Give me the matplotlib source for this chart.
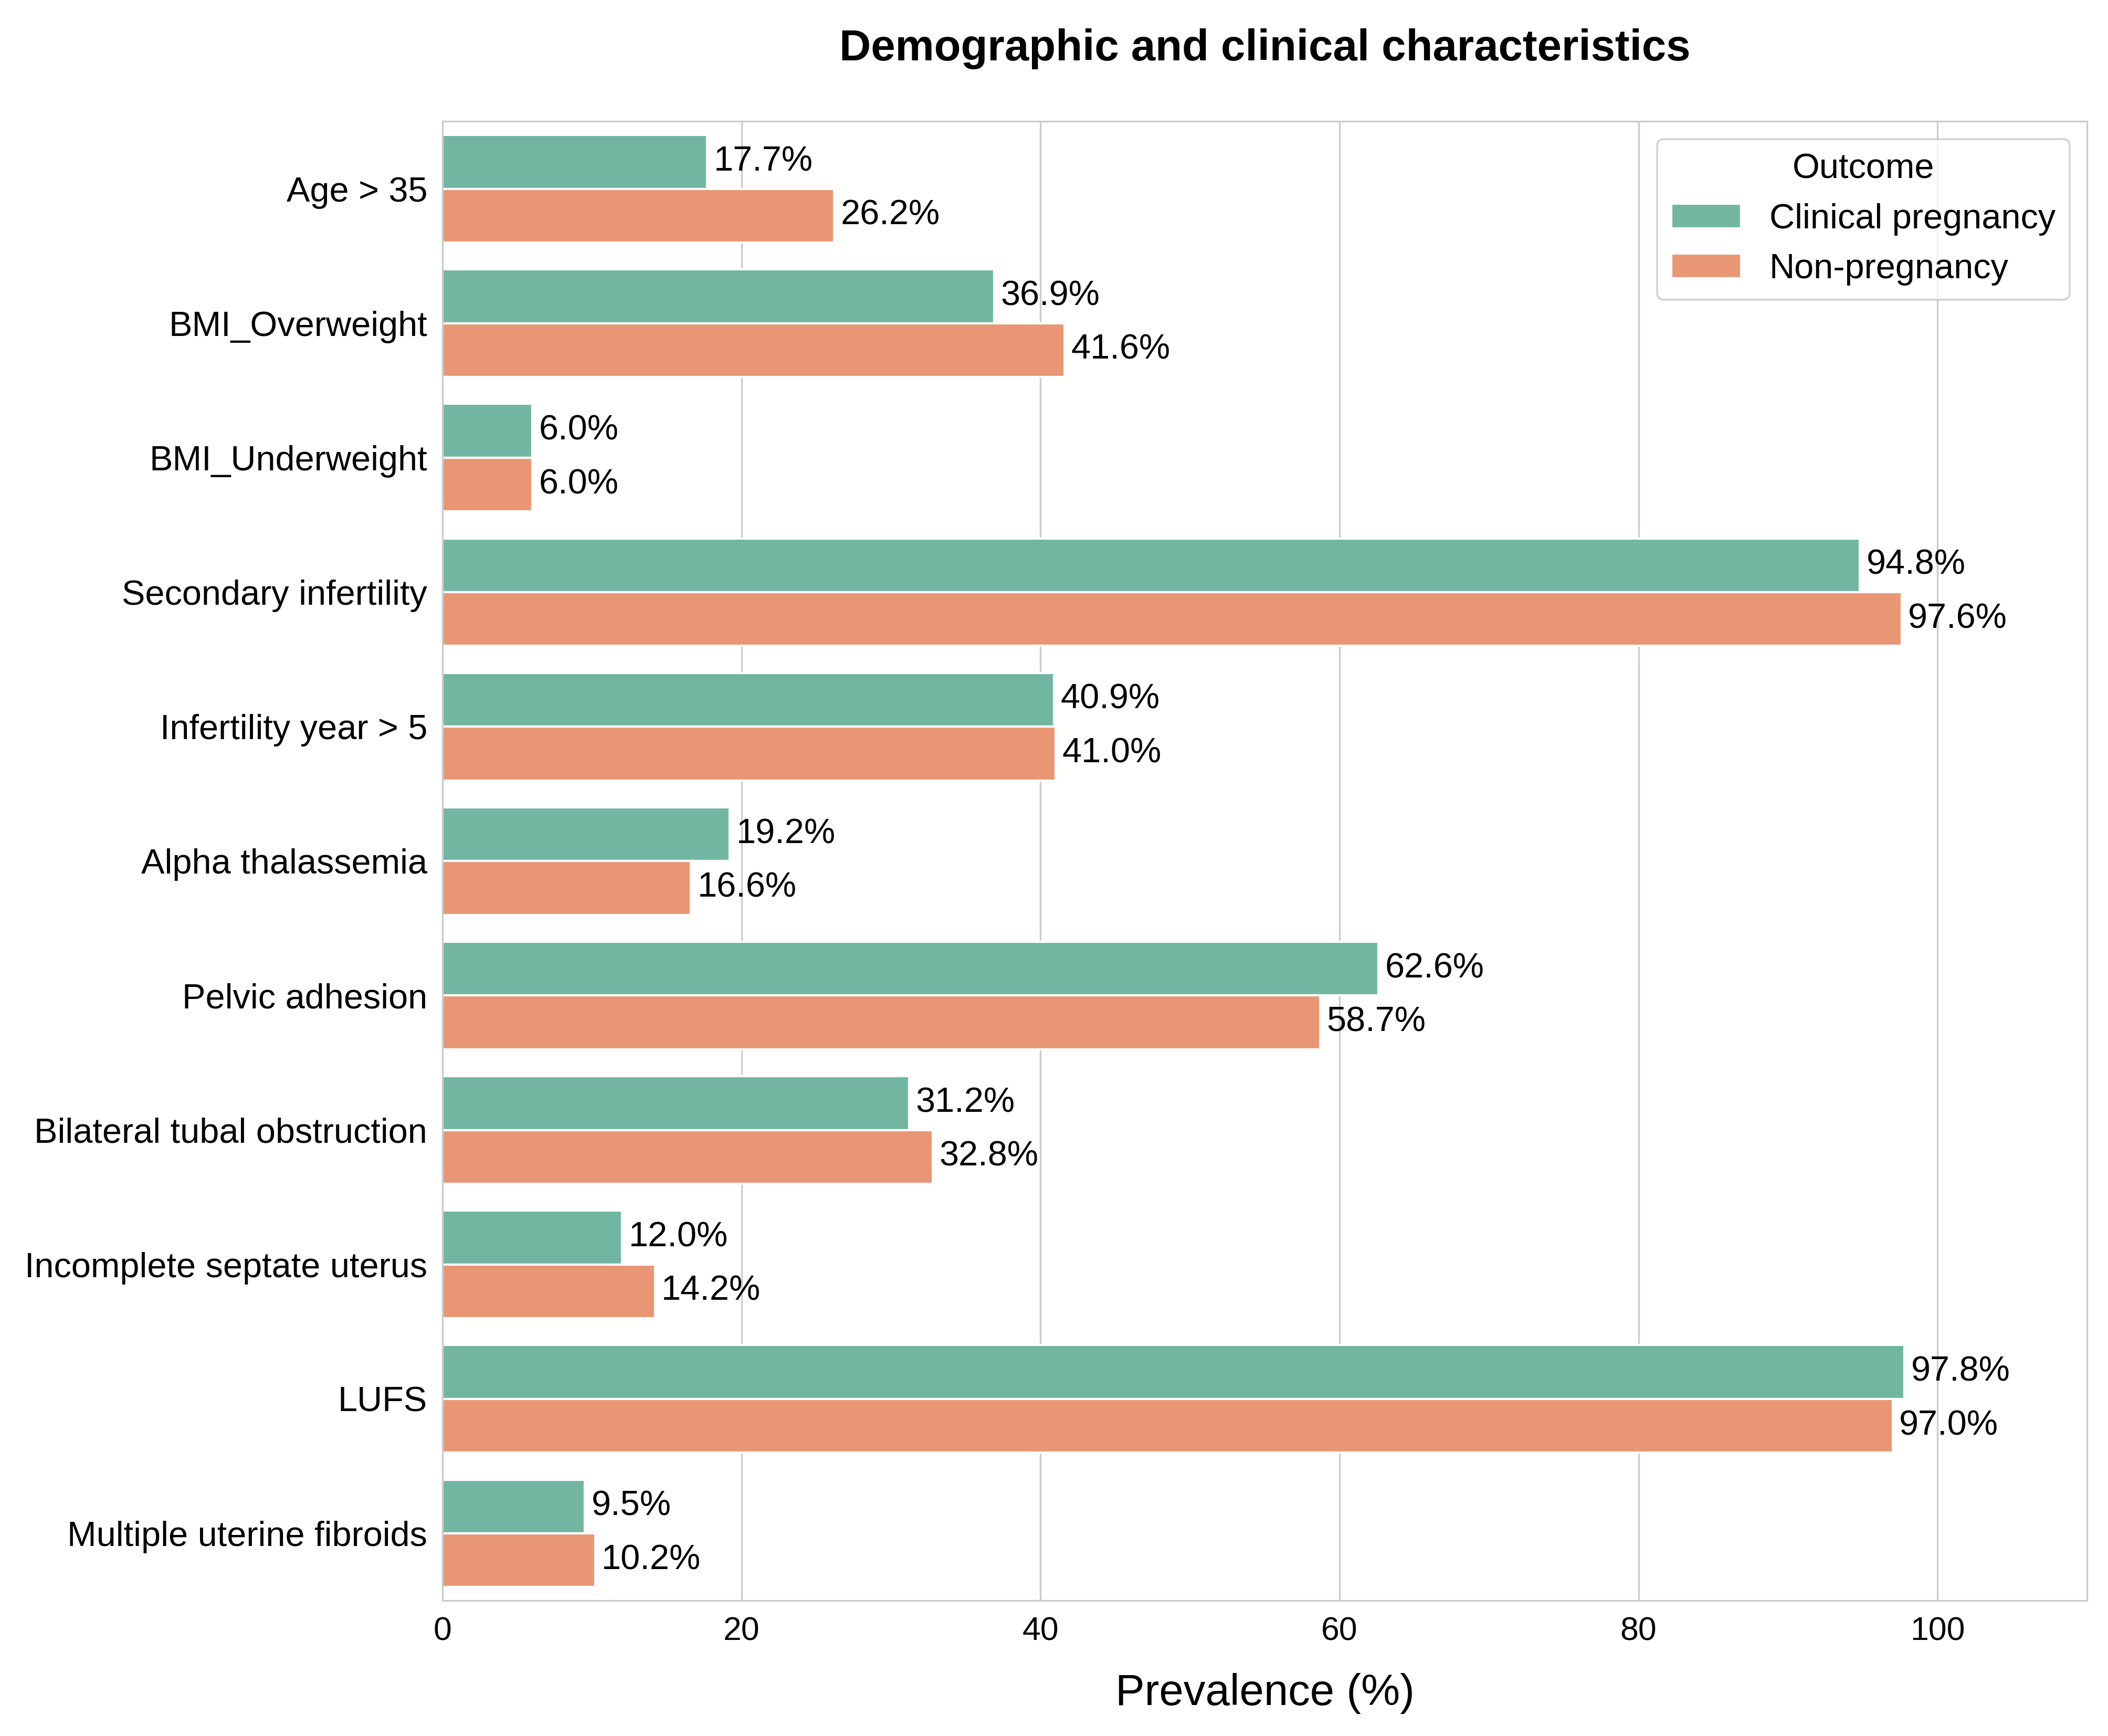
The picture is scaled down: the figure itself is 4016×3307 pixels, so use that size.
import pandas as pd
import seaborn as sns
import matplotlib.pyplot as plt

# values
characteristics = [
    "Age > 35", "BMI_Overweight", "BMI_Underweight", "Secondary infertility",
    "Infertility year > 5", "Alpha thalassemia", "Pelvic adhesion",
    "Bilateral tubal obstruction", "Incomplete septate uterus", "LUFS",
    "Multiple uterine fibroids",
]
pregnancy = [17.7, 36.9, 6.0, 94.8, 40.9, 19.2, 62.6, 31.2, 12.0, 97.8, 9.5]
non_pregnancy = [26.2, 41.6, 6.0, 97.6, 41.0, 16.6, 58.7, 32.8, 14.2, 97.0, 10.2]
outcomes = ["Clinical pregnancy", "Non-pregnancy"]

df = pd.DataFrame({
    "Characteristic": characteristics * 2,
    "Prevalence": pregnancy + non_pregnancy,
    "Outcome": [outcomes[0]] * len(characteristics) + [outcomes[1]] * len(characteristics),
})

sns.set_style("whitegrid")
plt.rcParams['font.family'] = ['Liberation Sans', 'DejaVu Sans']
plt.rcParams['text.color'] = 'black'
plt.rcParams['axes.labelcolor'] = 'black'
plt.rcParams['xtick.color'] = 'black'
plt.rcParams['ytick.color'] = 'black'

fig, ax = plt.subplots(figsize=(4016 / 300, 3307 / 300), dpi=300)
sns.barplot(data=df, y="Characteristic", x="Prevalence", hue="Outcome",
            palette="Set2", edgecolor="white", linewidth=1, ax=ax)

for container in ax.containers:
    ax.bar_label(container, fmt="%.1f%%", padding=3, fontsize=16, color="black")

ax.set_xlim(0, 110)
ax.set_title("Demographic and clinical characteristics", fontsize=20,
             fontweight="bold", pad=28)
ax.set_xlabel("Prevalence (%)", fontsize=20, labelpad=12)
ax.set_ylabel("")
ax.tick_params(axis="y", labelsize=16)
ax.tick_params(axis="x", labelsize=15)
leg = ax.legend(title="Outcome", fontsize=16, title_fontsize=16, loc="upper right")

plt.subplots_adjust(left=0.21, right=0.99, top=0.93, bottom=0.078)
plt.savefig("out.png", dpi=300)
